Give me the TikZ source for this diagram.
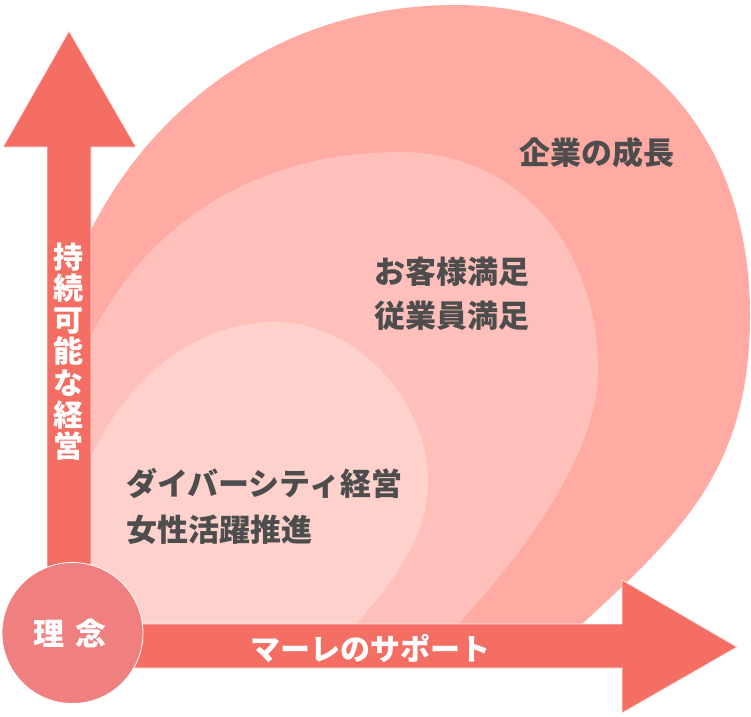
\documentclass[tikz,border=0pt]{standalone}
\usepackage{fontspec}
\newfontfamily\jp{Noto Sans CJK JP}
\definecolor{cOuter}{HTML}{FFAAA3}
\definecolor{cMid}{HTML}{FFBFBB}
\definecolor{cInner}{HTML}{FFD1CD}
\definecolor{cArrow}{HTML}{F46E64}
\definecolor{cCircle}{HTML}{F08080}
\definecolor{cText}{HTML}{4D4D4D}
\tikzset{
  darktext/.style={text=cText, inner sep=0pt, font=\jp\bfseries\fontsize{31}{45}\selectfont},
  whitetext/.style={text=white, inner sep=0pt, font=\jp\bfseries\fontsize{30}{31.6}\selectfont},
  arrowshape/.style={fill=cArrow, draw=white!85!cArrow, line width=0.8pt, line join=miter},
}
\begin{document}
\begin{tikzpicture}[x=1pt,y=-1pt]
\useasboundingbox (0,0) rectangle (751,716);
\begin{scope}
  \clip (91,0) rectangle (751,624);
  % outer region
  \fill[cOuter] (40,450) .. controls (40,196.4) and (218.5,5) .. (455,5)
     .. controls (632,5) and (750,129) .. (750,315)
     .. controls (750,485) and (667.1,544.4) .. (543,660) -- (40,660) -- cycle;
  % middle region
  \fill[cMid] (45,545) .. controls (45,309) and (187,152) .. (400,152)
     .. controls (514.8,152) and (598,243.6) .. (598,370)
     .. controls (598,470) and (494,588) .. (425,660) -- (45,660) -- cycle;
  % inner region
  \fill[cInner] (60,600) .. controls (60,447) and (156.8,322) .. (275,322)
     .. controls (354.6,322) and (428,398.8) .. (428,482)
     .. controls (428,552) and (369.6,608.9) .. (322,660) -- (60,660) -- cycle;
\end{scope}
% vertical arrow
\draw[arrowshape] (47,600) -- (47,147) -- (3,147) -- (69,31) -- (136,147) -- (91,147) -- (91,600) -- cycle;
% horizontal arrow
\draw[arrowshape] (110,624) -- (622,624) -- (622,580) -- (737,647) -- (622,713) -- (622,668) -- (110,668) -- cycle;
% circle
\node[circle, fill=cCircle, draw=white, line width=0.8pt, minimum size=141pt, inner sep=0pt] (rinen) at (72.5,633) {};
\node[whitetext, font=\jp\bfseries\fontsize{31}{36}\selectfont] (rinentext) at (70,633) {理\hspace{12pt}念};
% texts
\node[darktext] (growth) at (597,152.5) {企業の成長};
\node[darktext, align=center] (satis) at (452,293.5) {お客様満足\\[-1pt]従業員満足};
\node[darktext, anchor=west] (div) at (126,483.5) {ダイバーシティ経営};
\node[darktext, anchor=west] (women) at (126,530) {女性活躍推進};
\node[whitetext, align=center] (vert) at (68,351.5) {持\\続\\可\\能\\な\\経\\営};
\node[whitetext] (support) at (370,649) {マーレのサポート};
\end{tikzpicture}
\end{document}
